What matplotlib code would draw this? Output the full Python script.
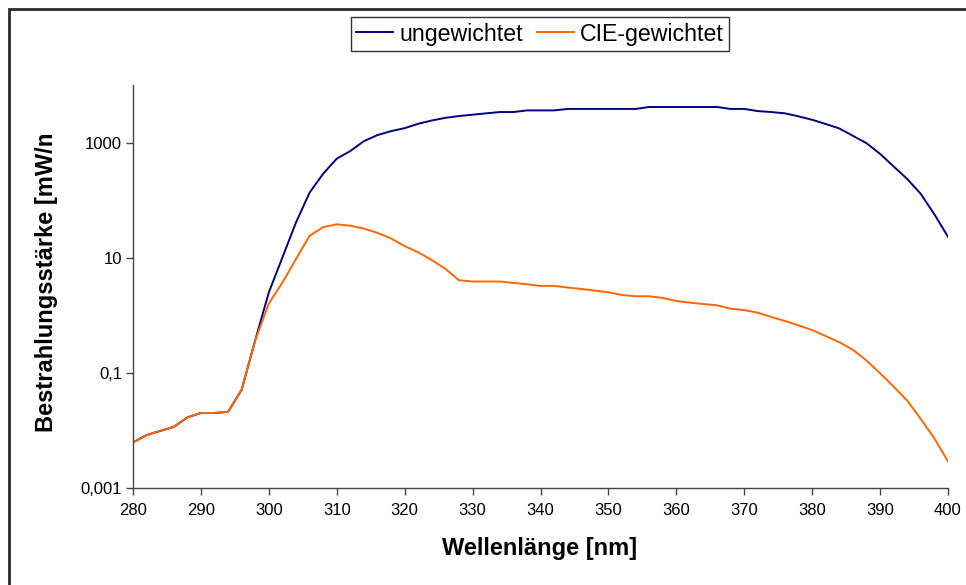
import matplotlib
matplotlib.use("Agg")
import matplotlib.pyplot as plt
from matplotlib.patches import Rectangle
from matplotlib.ticker import FixedLocator, NullLocator

wavelength = [280, 282, 284, 286, 288, 290, 292, 294, 296, 298,
              300, 302, 304, 306, 308, 310, 312, 314, 316, 318,
              320, 322, 324, 326, 328, 330, 332, 334, 336, 338,
              340, 342, 344, 346, 348, 350, 352, 354, 356, 358,
              360, 362, 364, 366, 368, 370, 372, 374, 376, 378,
              380, 382, 384, 386, 388, 390, 392, 394, 396, 398, 400]

ungewichtet = [0.0062, 0.0083, 0.0098, 0.0115, 0.0168, 0.0201, 0.0201, 0.021, 0.051, 0.37,
               2.5, 10.1, 41, 135, 288, 525, 713, 1060, 1350, 1580,
               1780, 2120, 2420, 2690, 2890, 3050, 3220, 3390, 3390, 3620,
               3620, 3620, 3840, 3840, 3840, 3840, 3840, 3840, 4150, 4150,
               4150, 4150, 4150, 4150, 3840, 3840, 3520, 3390, 3220, 2850,
               2490, 2100, 1760, 1310, 977, 637, 384, 233, 128, 56.6, 23.1]

cie_gewichtet = [0.0062, 0.0083, 0.0098, 0.0115, 0.0168, 0.0201, 0.0201, 0.021, 0.051, 0.37,
                 1.6, 3.7, 9.5, 24, 34, 38, 36, 32, 27, 21.6,
                 15.9, 12.4, 9.1, 6.4, 4.06, 3.86, 3.86, 3.86, 3.65, 3.46,
                 3.24, 3.24, 3.03, 2.87, 2.68, 2.51, 2.25, 2.14, 2.14, 2.0,
                 1.77, 1.66, 1.57, 1.49, 1.30, 1.23, 1.11, 0.933, 0.795, 0.667,
                 0.553, 0.435, 0.341, 0.251, 0.164, 0.0985, 0.0577, 0.0329, 0.0158, 0.00726, 0.0029]

x_ticks = [280, 290, 300, 310, 320, 330, 340, 350, 360, 370, 380, 390, 400]
y_ticks = [0.001, 0.1, 10, 1000]
y_tick_labels = ["0,001", "0,1", "10", "1000"]

plt.rcParams['font.family'] = ['Liberation Sans', 'DejaVu Sans']

W, H = 966, 585
fig = plt.figure(figsize=(W / 100, H / 100), dpi=100)
fig.patch.set_facecolor('white')

# chart-area border (only top and left edges visible)
fig.add_artist(Rectangle((8.5 / W, -0.2), 2.0, 1.2 - 8.5 / H, transform=fig.transFigure,
                         fill=False, edgecolor='#2a2a2a', lw=2.0))

ax = fig.add_axes([133 / W, 1 - 488 / H, (948 - 133) / W, (488 - 85) / H])
l1, = ax.plot(wavelength, ungewichtet, color='#000080', lw=1.4, label='ungewichtet')
l2, = ax.plot(wavelength, cie_gewichtet, color='#FF6600', lw=1.4, label='CIE-gewichtet')

ax.set_yscale('log')
ax.set_ylim(1e-3, 1e4)
ax.set_xlim(280, 400)
ax.yaxis.set_major_locator(FixedLocator(y_ticks))
ax.set_yticklabels(y_tick_labels)
ax.yaxis.set_minor_locator(NullLocator())
ax.set_xticks(x_ticks)
ax.set_xticklabels([str(v) for v in x_ticks])

for s in ['top', 'right']:
    ax.spines[s].set_visible(False)
for s in ['left', 'bottom']:
    ax.spines[s].set_color('#444444')
    ax.spines[s].set_linewidth(1.0)
ax.tick_params(axis='both', which='major', labelsize=12, colors='#444444',
               labelcolor='black', length=5, width=1.0, direction='out')
ax.tick_params(axis='y', pad=3)
ax.tick_params(axis='x', pad=6)

fig.text(540 / W, 1 - 549 / H, 'Wellenlänge [nm]', ha='center', va='center',
         fontsize=17, fontweight='bold')

yl = fig.text(47 / W, 1 - 432 / H, 'Bestrahlungsstärke [mW/m²]', rotation=90,
              rotation_mode='anchor', ha='left', va='center', fontsize=17, fontweight='bold')
clip = Rectangle((0, 0), 1, 1 - 135 / H, transform=fig.transFigure, visible=False)
fig.add_artist(clip)
yl.set_clip_path(clip)

leg = fig.legend(handles=[l1, l2], loc='center', bbox_to_anchor=(540 / W, 1 - 34 / H),
                 ncol=2, fontsize=16.7, frameon=True, fancybox=False, edgecolor='black',
                 handlelength=1.6, handletextpad=0.25, columnspacing=0.6,
                 borderpad=0.25, borderaxespad=0)
leg.get_frame().set_linewidth(1.0)

fig.savefig('out.png', dpi=100, facecolor='white')
